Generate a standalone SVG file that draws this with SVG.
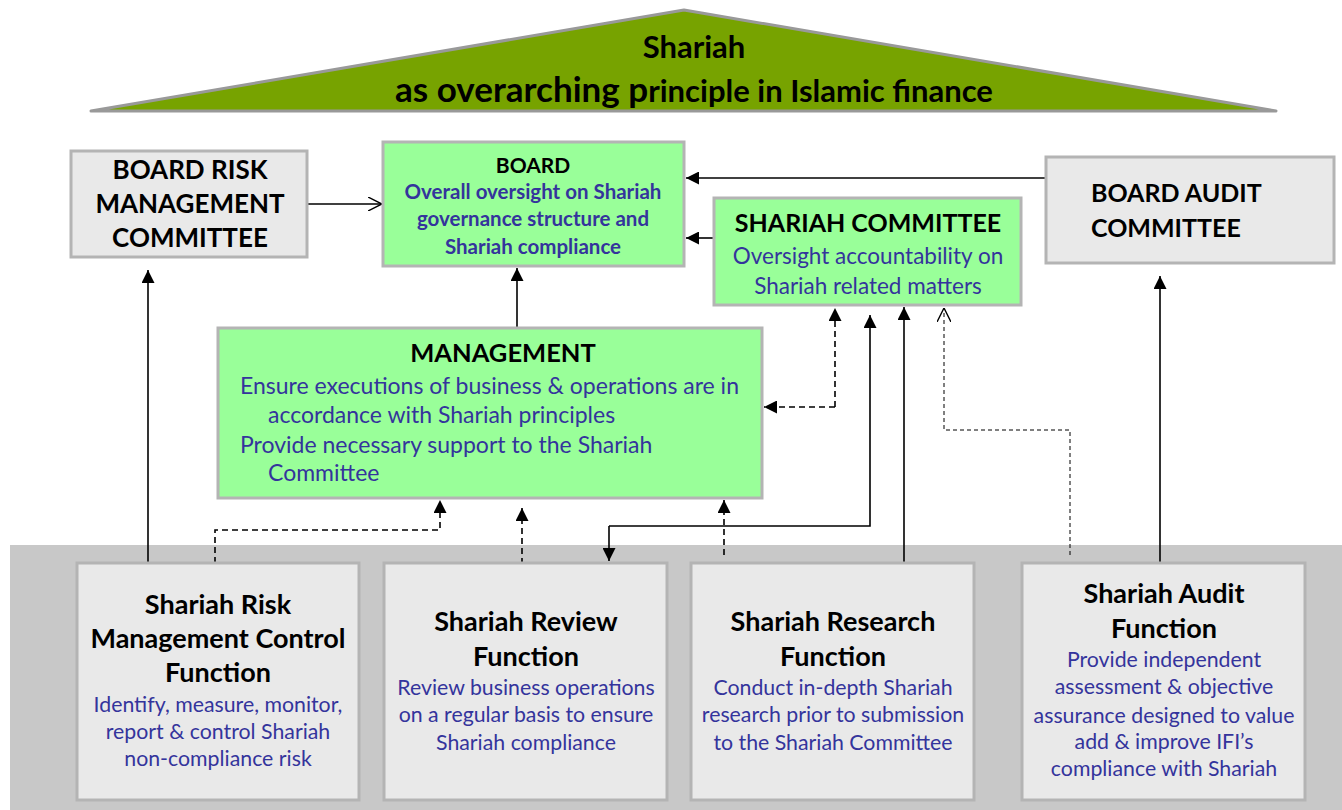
<svg xmlns="http://www.w3.org/2000/svg" width="1342" height="810" viewBox="0 0 1342 810">
<style>
  .gbox{fill:#e9e9e9;stroke:#b4b4b4;stroke-width:3}
  .green{fill:#99ff99;stroke:#b4b4b4;stroke-width:3}
  .t{font-family:Lato,"Noto Sans","DejaVu Sans",sans-serif;text-anchor:middle}
  .s{text-anchor:start}
  .hb{font-weight:bold;fill:#000}
  .blue{fill:#34349c}
  .ln{fill:none;stroke:#000;stroke-width:1.6}
  .dl{fill:none;stroke:#000;stroke-width:1.6;stroke-dasharray:6 4}
  .dt{fill:none;stroke:#000;stroke-width:1;stroke-dasharray:4 3}
</style>
<defs>
  <marker id="af" viewBox="0 0 10 10" refX="10" refY="5" markerWidth="13" markerHeight="13" markerUnits="userSpaceOnUse" orient="auto">
    <path d="M0,0 L10,5 L0,10 Z" fill="#000"/>
  </marker>
  <marker id="ao" viewBox="0 0 10 10" refX="10" refY="5" markerWidth="14" markerHeight="14" markerUnits="userSpaceOnUse" orient="auto">
    <path d="M0,0 L10,5 L0,10" fill="none" stroke="#000" stroke-width="1"/>
  </marker>
</defs>
<rect width="1342" height="810" fill="#fff"/>

<g id="roof">
  <polygon points="91,111 684,10 1276,111" fill="#77a300" stroke="#999" stroke-width="3" stroke-linejoin="round"/>
  <text class="t hb" x="694" y="58" font-size="31">Shariah</text>
  <text class="t hb" x="694" y="102" font-size="31"><tspan font-size="35">as overarching p</tspan>rinciple in Islamic finance</text>
</g>

<rect id="band" x="10" y="545" width="1332" height="265" fill="#c8c8c8"/>

<g id="connectors">
  <path class="ln" d="M307,204 H382" marker-end="url(#ao)"/>
  <path class="ln" d="M1046,178 H686" marker-end="url(#af)"/>
  <path class="ln" d="M714,238 H686" marker-end="url(#af)"/>
  <path class="ln" d="M517,328 V268" marker-end="url(#af)"/>
  <path class="ln" d="M148,563 V270" marker-end="url(#af)"/>
  <path class="dl" d="M215,563 V530 H440 V500" marker-end="url(#af)"/>
  <path class="dl" d="M522,564 V508" marker-end="url(#af)"/>
  <path class="dl" d="M724,555 V500" marker-end="url(#af)"/>
  <path class="ln" d="M609,526 H870 V315" marker-end="url(#af)"/>
  <path class="ln" d="M609,526 V561" marker-end="url(#af)"/>
  <path class="ln" d="M904,563 V307" marker-end="url(#af)"/>
  <path class="dl" d="M835,407 V308" marker-end="url(#af)"/>
  <path class="dl" d="M835,407 H764" marker-end="url(#af)"/>
  <path class="dt" d="M1070,555 V430 H944 V308" marker-end="url(#ao)"/>
  <path class="ln" d="M1160,563 V276" marker-end="url(#af)"/>
</g>

<g id="brmc">
  <rect class="gbox" x="71" y="151" width="236" height="106"/>
  <text class="t hb" x="190" y="179" font-size="26">BOARD RISK</text>
  <text class="t hb" x="190" y="213" font-size="26">MANAGEMENT</text>
  <text class="t hb" x="190" y="247" font-size="26">COMMITTEE</text>
</g>

<g id="board">
  <rect class="green" x="383" y="142" width="301" height="124"/>
  <text class="t hb" x="533" y="173" font-size="21">BOARD</text>
  <text class="t blue" x="533" y="199" font-size="20.5" font-weight="bold">Overall oversight on Shariah</text>
  <text class="t blue" x="533" y="226" font-size="20.5" font-weight="bold">governance structure and</text>
  <text class="t blue" x="533" y="254" font-size="20.5" font-weight="bold">Shariah compliance</text>
</g>

<g id="shariah-committee">
  <rect class="green" x="714" y="198" width="307" height="107"/>
  <text class="t hb" x="868" y="232" font-size="25">SHARIAH COMMITTEE</text>
  <text class="t blue" x="868" y="264" font-size="22.5">Oversight accountability on</text>
  <text class="t blue" x="868" y="294" font-size="22.5">Shariah related matters</text>
</g>

<g id="bac">
  <rect class="gbox" x="1046" y="157" width="288" height="106"/>
  <text class="t s hb" x="1091" y="202" font-size="25">BOARD AUDIT</text>
  <text class="t s hb" x="1091" y="237" font-size="25">COMMITTEE</text>
</g>

<g id="management">
  <rect class="green" x="218" y="328" width="544" height="170"/>
  <text class="t hb" x="503" y="362" font-size="25.5">MANAGEMENT</text>
  <text class="t s blue" x="240" y="394" font-size="23">Ensure executions of business &amp; operations are in</text>
  <text class="t s blue" x="268" y="423" font-size="23">accordance with Shariah principles</text>
  <text class="t s blue" x="240" y="453" font-size="23">Provide necessary support to the Shariah</text>
  <text class="t s blue" x="268" y="481" font-size="23">Committee</text>
</g>

<g id="srmc">
  <rect class="gbox" x="77" y="563" width="282" height="237"/>
  <text class="t hb" x="218" y="614" font-size="27">Shariah Risk</text>
  <text class="t hb" x="218" y="648" font-size="27">Management Control</text>
  <text class="t hb" x="218" y="682" font-size="27">Function</text>
  <text class="t blue" x="218" y="712" font-size="21.3">Identify, measure, monitor,</text>
  <text class="t blue" x="218" y="739" font-size="21.3">report &amp; control Shariah</text>
  <text class="t blue" x="218" y="766" font-size="21.3">non-compliance risk</text>
</g>

<g id="review">
  <rect class="gbox" x="384" y="563" width="283" height="237"/>
  <text class="t hb" x="526" y="631" font-size="27">Shariah Review</text>
  <text class="t hb" x="526" y="666" font-size="27">Function</text>
  <text class="t blue" x="526" y="695" font-size="21.3">Review business operations</text>
  <text class="t blue" x="526" y="722" font-size="21.3">on a regular basis to ensure</text>
  <text class="t blue" x="526" y="750" font-size="21.3">Shariah compliance</text>
</g>

<g id="research">
  <rect class="gbox" x="691" y="563" width="283" height="237"/>
  <text class="t hb" x="833" y="631" font-size="27">Shariah Research</text>
  <text class="t hb" x="833" y="666" font-size="27">Function</text>
  <text class="t blue" x="833" y="695" font-size="21.3">Conduct in-depth Shariah</text>
  <text class="t blue" x="833" y="722" font-size="21.3">research prior to submission</text>
  <text class="t blue" x="833" y="750" font-size="21.3">to the Shariah Committee</text>
</g>

<g id="audit">
  <rect class="gbox" x="1022" y="563" width="283" height="237"/>
  <text class="t hb" x="1164" y="603" font-size="27">Shariah Audit</text>
  <text class="t hb" x="1164" y="638" font-size="27">Function</text>
  <text class="t blue" x="1164" y="667" font-size="21.3">Provide independent</text>
  <text class="t blue" x="1164" y="694" font-size="21.3">assessment &amp; objective</text>
  <text class="t blue" x="1164" y="723" font-size="21.3">assurance designed to value</text>
  <text class="t blue" x="1164" y="749" font-size="21.3">add &amp; improve IFI’s</text>
  <text class="t blue" x="1164" y="776" font-size="21.3">compliance with Shariah</text>
</g>
</svg>
